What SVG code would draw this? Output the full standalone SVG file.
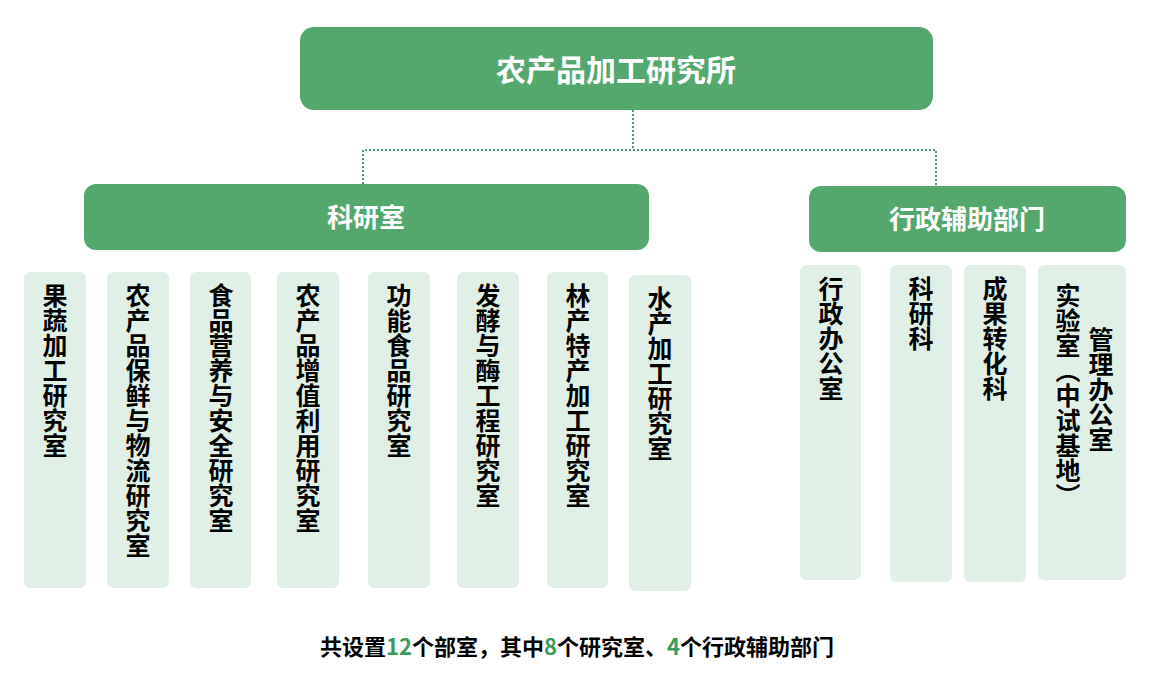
<svg xmlns="http://www.w3.org/2000/svg" width="1155" height="679" viewBox="0 0 1155 679">
<style>
.h{fill:#55a86d}
.l{fill:#e1f0e7}
.ht{font-family:"Noto Sans CJK SC",sans-serif;font-weight:bold;fill:#fff;text-anchor:middle}
.v{font-family:"Noto Sans CJK SC",sans-serif;font-weight:bold;font-size:25px;fill:#000;writing-mode:vertical-rl;letter-spacing:0px}
.c{fill:none;stroke:#4a9a7a;stroke-width:2;stroke-dasharray:2 2}
</style>
<rect width="1155" height="679" fill="#fff"/>
<g id="connectors">
<path class="c" d="M633 110V150M363 184V150H936V186"/>
</g>
<g id="root"><rect class="h" x="300" y="27" width="633" height="83" rx="14"/><text class="ht" x="616" y="81" font-size="30">农产品加工研究所</text></g>
<g id="kys"><rect class="h" x="84" y="184" width="565" height="66" rx="12"/><text class="ht" x="366" y="227" font-size="26">科研室</text></g>
<g id="xz"><rect class="h" x="809" y="186" width="317" height="66" rx="12"/><text class="ht" x="967" y="229" font-size="26">行政辅助部门</text></g>
<g id="n1"><rect class="l" x="24" y="272" width="62" height="316" rx="6"/><text class="v" x="55" y="283">果蔬加工研究室</text></g>
<g id="n2"><rect class="l" x="107" y="272" width="62" height="316" rx="6"/><text class="v" x="138" y="283">农产品保鲜与物流研究室</text></g>
<g id="n3"><rect class="l" x="190" y="272" width="61" height="316" rx="6"/><text class="v" x="221" y="283">食品营养与安全研究室</text></g>
<g id="n4"><rect class="l" x="277" y="272" width="62" height="316" rx="6"/><text class="v" x="308" y="283">农产品增值利用研究室</text></g>
<g id="n5"><rect class="l" x="368" y="272" width="62" height="316" rx="6"/><text class="v" x="399" y="283">功能食品研究室</text></g>
<g id="n6"><rect class="l" x="457" y="272" width="62" height="316" rx="6"/><text class="v" x="488" y="283">发酵与酶工程研究室</text></g>
<g id="n7"><rect class="l" x="547" y="272" width="61" height="316" rx="6"/><text class="v" x="578" y="283">林产特产加工研究室</text></g>
<g id="n8"><rect class="l" x="629" y="275" width="62" height="316" rx="6"/><text class="v" x="660" y="286">水产加工研究室</text></g>
<g id="n9"><rect class="l" x="800" y="265" width="61" height="315" rx="6"/><text class="v" x="831" y="276">行政办公室</text></g>
<g id="n10"><rect class="l" x="890" y="265" width="62" height="317" rx="6"/><text class="v" x="921" y="276">科研科</text></g>
<g id="n11"><rect class="l" x="964" y="265" width="62" height="317" rx="6"/><text class="v" x="995" y="276">成果转化科</text></g>
<g id="n12"><rect class="l" x="1038" y="265" width="88" height="315" rx="6"/><text class="v" x="1068" y="283">实验室（中试基地）</text><text class="v" x="1101" y="327">管理办公室</text></g>
<text x="577" y="655" text-anchor="middle" font-family="Noto Sans CJK SC,sans-serif" font-weight="bold" font-size="22" fill="#000">共设置<tspan fill="#3a9a5b">12</tspan>个部室，其中<tspan fill="#3a9a5b">8</tspan>个研究室、<tspan fill="#3a9a5b">4</tspan>个行政辅助部门</text>
</svg>
